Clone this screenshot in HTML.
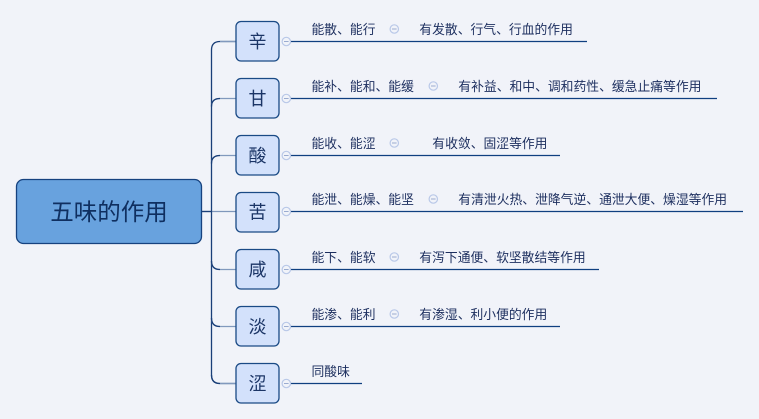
<!DOCTYPE html>
<html><head><meta charset="utf-8"><style>
html,body{margin:0;padding:0;background:#f1f3f9;}
svg{display:block;}
text{font-family:"Liberation Sans","Noto Sans CJK SC",sans-serif;}
</style></head><body>
<svg width="759" height="419" viewBox="0 0 759 419" xmlns="http://www.w3.org/2000/svg">
<rect width="759" height="419" fill="#f1f3f9"/>
<!-- trunk -->
<path d="M201.5 211.5 H236" stroke="#7f97bb" stroke-width="1.3" fill="none"/>
<path d="M201.5 211.5 H212" stroke="#1a3f78" stroke-width="1.3" fill="none"/>
<path d="M236 41.5 H220 Q211.5 41.5 211.5 50 V375 Q211.5 383.5 220 383.5 H236" stroke="#1a3f78" stroke-width="1.3" fill="none"/>
<g stroke="#8199bd" stroke-width="1.3" fill="none">
<path d="M220 41.5 H236"/>
<path d="M211.5 106.5 Q211.5 98.5 220 98.5 H236"/>
<path d="M211.5 163.5 Q211.5 155.5 220 155.5 H236"/>
<path d="M211.5 261 Q211.5 269.5 220 269.5 H236"/>
<path d="M211.5 318 Q211.5 326.5 220 326.5 H236"/>
<path d="M220 383.5 H236"/>
</g>
<path d="M211.5 106.5 Q211.5 98.5 220 98.5" stroke="#1a3f78" stroke-width="1.3" fill="none"/>
<path d="M211.5 163.5 Q211.5 155.5 220 155.5" stroke="#1a3f78" stroke-width="1.3" fill="none"/>
<path d="M211.5 261 Q211.5 269.5 220 269.5" stroke="#1a3f78" stroke-width="1.3" fill="none"/>
<path d="M211.5 318 Q211.5 326.5 220 326.5" stroke="#1a3f78" stroke-width="1.3" fill="none"/>
<path d="M211.5 375 Q211.5 383.5 220 383.5" stroke="#1a3f78" stroke-width="1.3" fill="none"/>

<!-- central node -->
<rect x="16.5" y="179.5" width="185" height="64" rx="7" fill="#68a2de" stroke="#16427f" stroke-width="1.3"/>
<text x="109" y="220" text-anchor="middle" font-size="23.5" fill="#0f2f60">五味的作用</text>

<!-- underlines -->
<g stroke="#0f3f80" stroke-width="1.3">
<line x1="290" y1="41.5" x2="587" y2="41.5"/>
<line x1="290" y1="98.5" x2="717" y2="98.5"/>
<line x1="290" y1="155.5" x2="560" y2="155.5"/>
<line x1="290" y1="211.5" x2="743" y2="211.5"/>
<line x1="290" y1="269.5" x2="599" y2="269.5"/>
<line x1="290" y1="326.5" x2="560" y2="326.5"/>
<line x1="290" y1="383.5" x2="362" y2="383.5"/>
</g>

<!-- branch nodes -->
<g fill="#d3e1fb" stroke="#1a4a85" stroke-width="1.3">
<rect x="236" y="21.5" width="43" height="39.5" rx="5"/>
<rect x="236" y="78.5" width="43" height="39.5" rx="5"/>
<rect x="236" y="135.5" width="43" height="39.5" rx="5"/>
<rect x="236" y="192.5" width="43" height="39.5" rx="5"/>
<rect x="236" y="249.5" width="43" height="39.5" rx="5"/>
<rect x="236" y="306.5" width="43" height="39.5" rx="5"/>
<rect x="236" y="363.5" width="43" height="39.5" rx="5"/>
</g>
<g font-size="18" fill="#1b3566" text-anchor="middle">
<text x="257.5" y="48">辛</text>
<text x="257.5" y="105">甘</text>
<text x="257.5" y="162">酸</text>
<text x="257.5" y="218.5">苦</text>
<text x="257.5" y="276">咸</text>
<text x="257.5" y="333">淡</text>
<text x="257.5" y="390">涩</text>
</g>

<!-- collapse circles near nodes -->
<g fill="#f1f3f9" stroke="#b9c8e8" stroke-width="1.2">
<circle cx="286.3" cy="41.5" r="4.2"/>
<circle cx="286.3" cy="98.5" r="4.2"/>
<circle cx="286.3" cy="155.5" r="4.2"/>
<circle cx="286.3" cy="211.5" r="4.2"/>
<circle cx="286.3" cy="269.5" r="4.2"/>
<circle cx="286.3" cy="326.5" r="4.2"/>
<circle cx="286.3" cy="383.5" r="4.2"/>
<circle cx="394.3" cy="29" r="4.2"/>
<circle cx="433.3" cy="86" r="4.2"/>
<circle cx="394.3" cy="143" r="4.2"/>
<circle cx="433.3" cy="199" r="4.2"/>
<circle cx="394.3" cy="257" r="4.2"/>
<circle cx="394.3" cy="314" r="4.2"/>
</g>
<g stroke="#9aabd0" stroke-width="1">
<line x1="284" y1="41.5" x2="288.6" y2="41.5"/>
<line x1="284" y1="98.5" x2="288.6" y2="98.5"/>
<line x1="284" y1="155.5" x2="288.6" y2="155.5"/>
<line x1="284" y1="211.5" x2="288.6" y2="211.5"/>
<line x1="284" y1="269.5" x2="288.6" y2="269.5"/>
<line x1="284" y1="326.5" x2="288.6" y2="326.5"/>
<line x1="284" y1="383.5" x2="288.6" y2="383.5"/>
<line x1="392" y1="29" x2="396.6" y2="29"/>
<line x1="431" y1="86" x2="435.6" y2="86"/>
<line x1="392" y1="143" x2="396.6" y2="143"/>
<line x1="431" y1="199" x2="435.6" y2="199"/>
<line x1="392" y1="257" x2="396.6" y2="257"/>
<line x1="392" y1="314" x2="396.6" y2="314"/>
</g>

<!-- texts -->
<g font-size="12.8" fill="#1c2e5e">
<text x="311.5" y="34">能散、能行</text>
<text x="419.3" y="34">有发散、行气、行血的作用</text>
<text x="311.5" y="91">能补、能和、能缓</text>
<text x="458.3" y="91">有补益、和中、调和药性、缓急止痛等作用</text>
<text x="311.5" y="148">能收、能涩</text>
<text x="432.3" y="148">有收敛、固涩等作用</text>
<text x="311.5" y="204">能泄、能燥、能坚</text>
<text x="458.3" y="204">有清泄火热、泄降气逆、通泄大便、燥湿等作用</text>
<text x="311.5" y="262">能下、能软</text>
<text x="419.3" y="262">有泻下通便、软坚散结等作用</text>
<text x="311.5" y="319">能渗、能利</text>
<text x="419.3" y="319">有渗湿、利小便的作用</text>
<text x="311.5" y="376">同酸味</text>
</g>
</svg>
</body></html>
